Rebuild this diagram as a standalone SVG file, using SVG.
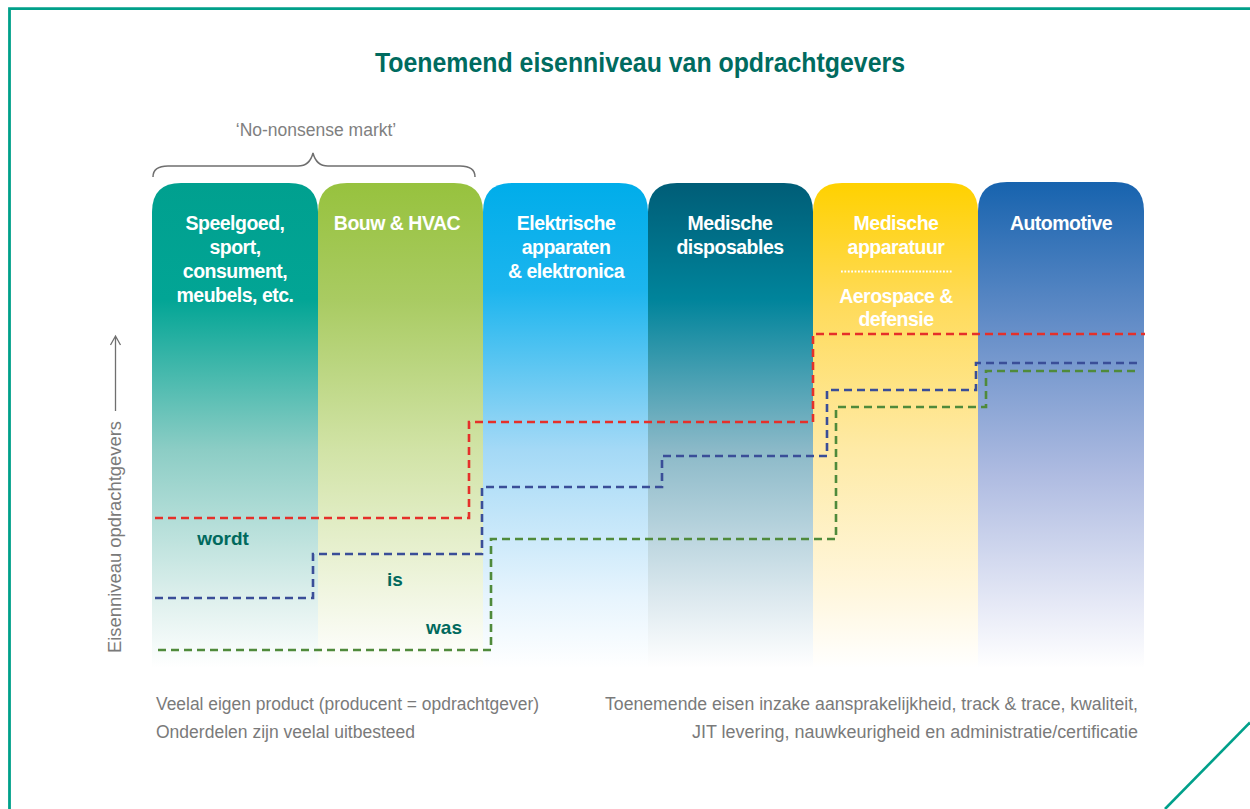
<svg xmlns="http://www.w3.org/2000/svg" width="1250" height="809" viewBox="0 0 1250 809">
  <style>
    .title { font-family: "Liberation Sans Narrow", "Liberation Sans", Arial, sans-serif; font-weight: bold; font-size: 27px; fill: #006b5f; }
    .col { font-family: "Liberation Sans Narrow", "Liberation Sans", Arial, sans-serif; font-weight: bold; font-size: 19.5px; letter-spacing: -0.5px; fill: #ffffff; text-anchor: middle; }
    .note { font-family: "Liberation Sans Narrow", "Liberation Sans", Arial, sans-serif; font-size: 17.5px; fill: #7a7a7a; }
    .lvl { font-family: "Liberation Sans Narrow", "Liberation Sans", Arial, sans-serif; font-weight: bold; font-size: 19px; fill: #00695d; text-anchor: middle; }
    .step { fill: none; stroke-width: 2.6; stroke-dasharray: 8 5; }
    .red { stroke: #e5302a; }
    .blue { stroke: #3a4e98; }
    .green { stroke: #4f8a3b; }
    .frame { stroke: #00a08a; fill: none; }
  </style>
  <defs>
    <linearGradient id="g1" x1="0" y1="0" x2="0" y2="1">
      <stop offset="0" stop-color="#00a08f"/>
      <stop offset="0.24" stop-color="#02a595"/>
      <stop offset="0.55" stop-color="#8ccdc5"/>
      <stop offset="0.85" stop-color="#dcefec"/>
      <stop offset="1" stop-color="#ffffff"/>
    </linearGradient>
    <linearGradient id="g2" x1="0" y1="0" x2="0" y2="1">
      <stop offset="0" stop-color="#97c23e"/>
      <stop offset="0.24" stop-color="#a9cb62"/>
      <stop offset="0.55" stop-color="#d1e3a6"/>
      <stop offset="0.85" stop-color="#f1f6e2"/>
      <stop offset="1" stop-color="#ffffff"/>
    </linearGradient>
    <linearGradient id="g3" x1="0" y1="0" x2="0" y2="1">
      <stop offset="0" stop-color="#00adea"/>
      <stop offset="0.22" stop-color="#1cb5ee"/>
      <stop offset="0.55" stop-color="#a4d9f6"/>
      <stop offset="0.85" stop-color="#e6f4fd"/>
      <stop offset="1" stop-color="#ffffff"/>
    </linearGradient>
    <linearGradient id="g4" x1="0" y1="0" x2="0" y2="1">
      <stop offset="0" stop-color="#005d77"/>
      <stop offset="0.24" stop-color="#00849b"/>
      <stop offset="0.55" stop-color="#8bb9c8"/>
      <stop offset="0.85" stop-color="#dbe8ee"/>
      <stop offset="1" stop-color="#ffffff"/>
    </linearGradient>
    <linearGradient id="g5" x1="0" y1="0" x2="0" y2="1">
      <stop offset="0" stop-color="#ffd100"/>
      <stop offset="0.25" stop-color="#ffdb5a"/>
      <stop offset="0.55" stop-color="#feeaa6"/>
      <stop offset="0.85" stop-color="#fff7df"/>
      <stop offset="1" stop-color="#ffffff"/>
    </linearGradient>
    <linearGradient id="g6" x1="0" y1="0" x2="0" y2="1">
      <stop offset="0" stop-color="#1763ae"/>
      <stop offset="0.3" stop-color="#658ec8"/>
      <stop offset="0.6" stop-color="#aebbe1"/>
      <stop offset="0.87" stop-color="#e6e9f6"/>
      <stop offset="1" stop-color="#ffffff"/>
    </linearGradient>
  </defs>

  <!-- frame -->
  <g id="frame">
    <path class="frame" stroke-width="2.8" d="M9.5 809 V8.7 H1250"/>
    <path class="frame" stroke-width="2.6" d="M1250 722.5 L1165 809"/>
  </g>

  <text id="title" class="title" x="640" y="72" text-anchor="middle" textLength="530" lengthAdjust="spacingAndGlyphs">Toenemend eisenniveau van opdrachtgevers</text>

  <!-- brace over the first two columns -->
  <g id="brace">
    <text x="316" y="136" class="note" text-anchor="middle" fill="#808080" style="fill:#808080">‘No-nonsense markt’</text>
    <path d="M153 177 C153 169 158 166 168 166 H298 C306 166 311 161 313 153 C315 161 320 166 328 166 H460 C470 166 475 169 475 177" fill="none" stroke="#6f6f6f" stroke-width="1.5"/>
  </g>

  <!-- axis -->
  <g id="axis">
    <path d="M115.5 411 V336 M110.5 345 L115.5 336 L120.5 345" fill="none" stroke="#6f6f6f" stroke-width="1.3"/>
    <text class="note" transform="translate(121 537) rotate(-90)" text-anchor="middle" textLength="232" lengthAdjust="spacingAndGlyphs">Eisenniveau opdrachtgevers</text>
  </g>

  <!-- market columns -->
  <g id="col-speelgoed">
    <path d="M152 668 V212 Q152 183 181 183 H289 Q318 183 318 212 V668 Z" fill="url(#g1)"/>
    <text class="col"><tspan x="235" y="230">Speelgoed,</tspan><tspan x="235" y="254">sport,</tspan><tspan x="235" y="278">consument,</tspan><tspan x="235" y="302">meubels, etc.</tspan></text>
  </g>
  <g id="col-bouw">
    <path d="M318 668 V212 Q318 183 347 183 H454 Q483 183 483 212 V668 Z" fill="url(#g2)"/>
    <text class="col" x="397" y="230">Bouw &amp; HVAC</text>
  </g>
  <g id="col-elektrisch">
    <path d="M483 668 V212 Q483 183 512 183 H619 Q648 183 648 212 V668 Z" fill="url(#g3)"/>
    <text class="col"><tspan x="566" y="230">Elektrische</tspan><tspan x="566" y="254">apparaten</tspan><tspan x="566" y="278">&amp; elektronica</tspan></text>
  </g>
  <g id="col-disposables">
    <path d="M648 668 V212 Q648 183 677 183 H784 Q813 183 813 212 V668 Z" fill="url(#g4)"/>
    <text class="col"><tspan x="730" y="230">Medische</tspan><tspan x="730" y="254">disposables</tspan></text>
  </g>
  <g id="col-apparatuur">
    <path d="M813 668 V212 Q813 183 842 183 H949 Q978 183 978 212 V668 Z" fill="url(#g5)"/>
    <text class="col"><tspan x="896" y="230">Medische</tspan><tspan x="896" y="254">apparatuur</tspan></text>
    <line x1="841" y1="271.5" x2="953" y2="271.5" stroke="#ffffff" stroke-width="1.8" stroke-dasharray="1.8 1.6"/>
    <text class="col"><tspan x="896" y="303">Aerospace &amp;</tspan><tspan x="896" y="326">defensie</tspan></text>
  </g>
  <g id="col-automotive">
    <path d="M978 668 V211 Q978 182 1007 182 H1115 Q1144 182 1144 211 V668 Z" fill="url(#g6)"/>
    <text class="col" x="1061" y="230">Automotive</text>
  </g>

  <!-- requirement level steps -->
  <g id="connectors">
    <path class="step red" d="M155 518 H469 V422 H813 V334 H1145"/>
    <path class="step blue" d="M155 598 H313 V554 H482 V487 H662 V456 H827 V390 H976 V363 H1140"/>
    <path class="step green" d="M158 650 H491 V539 H836 V407 H986 V371 H1140"/>
  </g>

  <g id="levels">
    <text class="lvl" x="223" y="545">wordt</text>
    <text class="lvl" x="395" y="586">is</text>
    <text class="lvl" x="444" y="634">was</text>
  </g>

  <!-- notes below the columns -->
  <g id="notes">
    <text class="note" x="156" y="710" textLength="383" lengthAdjust="spacingAndGlyphs">Veelal eigen product (producent = opdrachtgever)</text>
    <text class="note" x="156" y="738" textLength="259" lengthAdjust="spacingAndGlyphs">Onderdelen zijn veelal uitbesteed</text>
    <text class="note" x="1138" y="710" text-anchor="end" textLength="533" lengthAdjust="spacingAndGlyphs">Toenemende eisen inzake aansprakelijkheid, track &amp; trace, kwaliteit,</text>
    <text class="note" x="1138" y="738" text-anchor="end" textLength="446" lengthAdjust="spacingAndGlyphs">JIT levering, nauwkeurigheid en administratie/certificatie</text>
  </g>
</svg>
